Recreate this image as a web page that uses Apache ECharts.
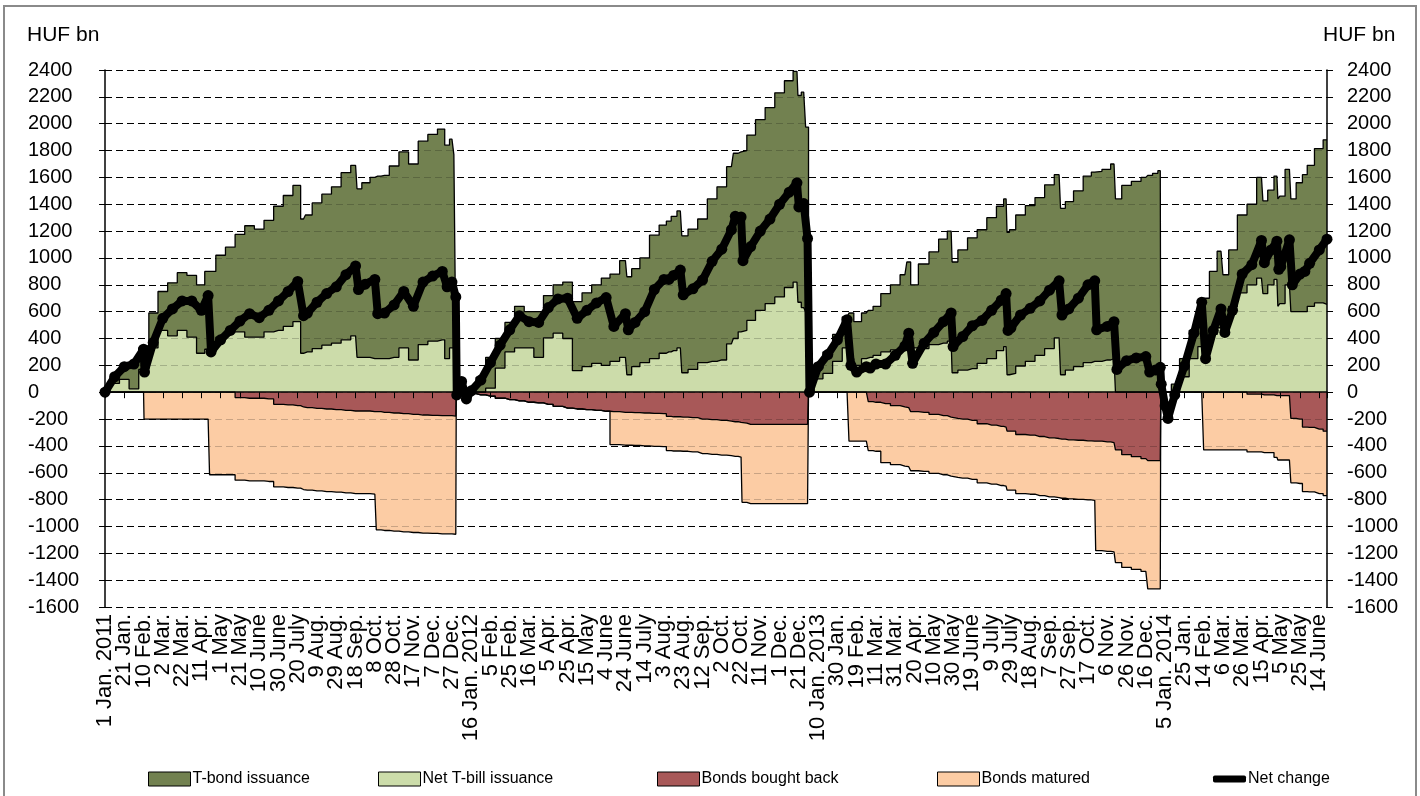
<!DOCTYPE html>
<html>
<head>
<meta charset="utf-8">
<title>HUF government securities issuance, by years</title>
<script src="https://cdn.jsdelivr.net/npm/echarts@6.0.0/dist/echarts.min.js"></script>
<style>
html,body{margin:0;padding:0;background:#ffffff;}
#chart{width:1420px;height:796px;}
</style>
</head>
<body>
<div id="chart"></div>
<script>
// Tick labels: one every 20 days, starting 1 Jan 2011 (day index 0)
const xTickLabels = ['1 Jan. 2011','21 Jan.','10 Feb.','2 Mar.','22 Mar.','11 Apr.','1 May','21 May','10 June','30 June',
  '20 July','9 Aug.','29 Aug.','18 Sep.','8 Oct.','28 Oct.','17 Nov.','7 Dec.','27 Dec.','16 Jan. 2012',
  '5 Feb.','25 Feb.','16 Mar.','5 Apr.','25 Apr.','15 May','4 June','24 June','14 July','3 Aug.',
  '23 Aug.','12 Sep.','2 Oct.','22 Oct.','11 Nov.','1 Dec.','21 Dec.','10 Jan. 2013','30 Jan.','19 Feb.',
  '11 Mar.','31 Mar.','20 Apr.','10 May','30 May','19 June','9 July','29 July','18 Aug.','7 Sep.',
  '27 Sep.','17 Oct.','6 Nov.','26 Nov.','16 Dec.','5 Jan. 2014','25 Jan.','14 Feb.','6 Mar.','26 Mar.',
  '15 Apr.','5 May','25 May','14 June'];

// Day index (days since 1 Jan 2011) of each reading; cumulative year-to-date values, HUF bn
const days2011 = [0,10,20,30,40, 41,50,60,70,80, 90,100,107,110,120, 130,140,150,160,170,
  180,190,200,206,210, 220,230,240,250,260, 263,270,280,283,290, 300,310,320,330,340, 350,355,360,364];
const tBond2011 = [0,40,90,195,160, 170,260,290,395,430, 460,510,580,600,610, 630,725,830,805,830,
  925,975,1015,1000,1020, 1085,1125,1165,1245,1270, 1255,1300,1350,1360,1365, 1425,1460,1460,1515,1540, 1570,1590,1555,1440];
const tBill2011 = [0,65,95,25,170, 175,330,460,420,460, 410,290,320,300,410, 450,450,410,410,450,
  460,490,525,290,300, 325,350,365,390,420, 260,260,250,250,250, 260,330,240,355,380, 390,250,330,330];
const boughtBack2011 = [0,0,0,0,0, 0,0,0,0,0, 0,0,0,0,0, 0,-40,-45,-45,-50,
  -90,-95,-100,-110,-115, -120,-125,-130,-135,-140, -140,-140,-145,-145,-150, -155,-160,-165,-170,-172, -175,-175,-175,-178];
const matured2011 = [0,0,0,0,0, -200,-200,-200,-200,-200, -200,-200,-200,-615,-615, -615,-615,-615,-615,-615,
  -615,-615,-615,-615,-615, -615,-615,-615,-615,-615, -615,-615,-615,-880,-880, -880,-880,-880,-880,-880, -880,-880,-880,-880];
const net2011 = [0,115,190,210,320, 150,370,550,620,680, 680,610,720,300,390, 460,530,585,555,610,
  680,750,825,570,590, 670,735,785,875,940, 765,805,840,585,590, 650,750,640,820,865, 900,785,820,710];

const days2012 = [365,370,375,380,390, 400,410,420,430,440, 450,460,470,480,490, 500,510,520,528,540,
  543,550,560,570,580, 585,590,597,600,610, 620,630,640,650,654, 660,662,670,680,690, 700,710,718,720,725, 729];
const tBond2012 = [0,0,0,20,110, 230,220,220,310,270, 340,315,360,420,515, 550,585,650,650,720,
  730,730,780,920,955, 975,1000,1020,1020,1045, 1070,1210,1290,1320,1380, 1340,1340,1380,1420,1460, 1520,1540,1570,1540,1605, 1375];
const tBill2012 = [0,0,0,0,0, 30,180,300,330,330, 260,405,440,400,160, 190,215,200,230,260,
  130,190,220,250,290, 300,310,330,145,170, 220,230,240,360,400, 450,460,535,610,660, 710,780,820,670,630, 600];
const boughtBack2012 = [0,0,0,-10,-20, -30,-45,-55,-65,-75, -80,-90,-105,-118,-125, -130,-135,-142,-145,-150,
  -150,-152,-155,-158,-160, -180,-183,-183,-185,-190, -200,-205,-210,-215,-220, -225,-230,-240,-240,-240, -240,-240,-240,-240,-240, -240];
const matured2012 = [0,0,0,0,0, 0,0,0,0,0, 0,0,0,0,0, 0,0,0,-245,-245,
  -245,-245,-245,-245,-245, -255,-255,-255,-255,-255, -258,-258,-258,-258,-258, -258,-590,-590,-590,-590, -590,-590,-590,-590,-590, -590];
const net2012 = [-20,80,-50,10,90, 220,350,465,570,525, 520,630,695,700,550, 610,665,705,490,585,
  465,520,600,765,840, 840,870,910,725,770, 835,975,1065,1210,1310, 1305,980,1085,1200,1290, 1400,1490,1560,1380,1405, 1145];

const days2013 = [731,740,750,760,770, 774,780,790,794,800, 810,820,830,834,838, 850,860,870,878,880,
  890,900,910,920,930, 935,937,940,950,960, 970,980,990,993,1000, 1010,1020,1027,1029,1040, 1047,1050,1060,1070,1080, 1084,1090,1095];
const tBond2013 = [0,80,160,200,230, 340,325,340,350,365, 435,485,555,615,470, 630,690,775,820,825,
  895,975,995,1050,1075, 1100,1060,1070,1125,1160, 1175,1220,1215,1240,1255, 1310,1390,1410,1415,1420, 1450,1440,1540,1570,1600, 1615,1630,1650];
const tBill2013 = [0,100,140,230,330, 250,200,250,260,275, 300,315,320,355,330, 325,355,365,380,145,
  165,175,215,250,310, 340,130,140,195,230, 275,325,405,130,165, 190,220,230,230,240, 250,0,0,0,0, 0,0,0];
const boughtBack2013 = [0,0,0,0,0, 0,0,0,-70,-75, -85,-100,-110,-115,-145, -150,-165,-175,-185,-195,
  -200,-210,-235,-245,-255, -260,-290,-290,-315,-320, -330,-340,-345,-350,-355, -358,-362,-365,-365,-370, -375,-430,-465,-480,-495, -510,-510,-510];
const matured2013 = [0,0,0,0,0, -365,-365,-365,-365,-365, -440,-440,-440,-440,-440, -440,-440,-440,-440,-440,
  -440,-440,-440,-440,-440, -440,-440,-440,-440,-440, -440,-440,-440,-440,-440, -440,-440,-440,-815,-815, -815,-840,-840,-840,-840, -955,-955,-955];
const net2013 = [0,190,280,390,540, 200,150,190,180,210, 210,275,345,440,215, 365,445,525,590,340,
  415,495,535,610,685, 735,460,480,575,625, 680,760,830,575,620, 700,800,830,465,490, 525,170,235,255,265, 150,165,185];

const days2014 = [1096,1100,1103,1110,1120, 1130,1138,1142,1150,1158, 1162,1170,1180,1190,1200,
  1203,1210,1216,1218,1220, 1229,1232,1240,1245,1250, 1260,1268];
const tBond2014 = [0,0,0,60,135, 210,330,320,470,570, 375,420,580,600,750,
  690,705,770,800,800, 860,840,960,1020,1050, 1150,1225];
const tBill2014 = [0,0,0,0,115, 250,340,380,430,480, 500,640,740,800,850,
  735,800,840,640,660, 800,600,600,600,640, 665,655];
const boughtBack2014 = [0,0,0,0,0, 0,0,0,0,0, 0,0,0,-15,-15,
  -20,-20,-25,-25,-25, -25,-195,-200,-260,-262, -275,-290];
const matured2014 = [0,0,0,0,0, 0,0,-430,-430,-430, -430,-430,-430,-430,-430,
  -430,-430,-460,-480,-480, -480,-480,-480,-480,-480, -480,-480];
const net2014 = [60,-100,-195,-20,195, 440,670,250,460,620, 445,610,880,950,1130,
  965,1060,1125,915,935, 1135,800,880,900,960, 1060,1140];

// ---- assemble ----
const days = [].concat(days2011, days2012, days2013, days2014);
const tBond = [].concat(tBond2011, tBond2012, tBond2013, tBond2014);
const tBill = [].concat(tBill2011, tBill2012, tBill2013, tBill2014);
const boughtBack = [].concat(boughtBack2011, boughtBack2012, boughtBack2013, boughtBack2014);
const matured = [].concat(matured2011, matured2012, matured2013, matured2014);
const netChange = [].concat(net2011, net2012, net2013, net2014);

const pts = vals => days.map((d, i) => [d, vals[i]]);
// upper edge of a stacked band = its own value on top of the band below it
const stackPts = (below, own) => days.map((d, i) => [d, below[i] + own[i]]);

const FONT = "'Liberation Sans', Arial, sans-serif";
const C_BOND = '#728150', C_BILL = '#CCDCAA', C_BB = '#A85858', C_MAT = '#FCCCA4';
const X_MAX = 1268;

function areaSeries(name, data, color) {
  return {
    name: name, type: 'line', data: data, step: 'middle',
    symbol: 'none', showSymbol: false, silent: true,
    lineStyle: {color: '#000', width: 1.3},
    itemStyle: {color: color, borderColor: '#000', borderWidth: 1},
    areaStyle: {color: color, opacity: 1},
    emphasis: {disabled: true}, z: 2, animation: false
  };
}

const yBase = {type: 'value', min: -1600, max: 2400, interval: 200};
const xBase = {type: 'value', min: 0, max: X_MAX, interval: 20, gridIndex: 0};
const plainNum = v => String(v);
const tickLabel = v => {
  if (v % 20 !== 0) return '';
  const l = xTickLabels[v / 20];
  return l === undefined ? '' : l;
};
const labelAxis = (formatter, showMin) => Object.assign({}, xBase, {
  position: 'bottom',
  axisLine: {show: false, onZero: false},
  axisTick: {show: false},
  splitLine: {show: false},
  axisLabel: {
    show: true, rotate: 90, margin: 7, fontSize: 22, fontFamily: FONT, color: '#000',
    showMinLabel: showMin, showMaxLabel: false, hideOverlap: false, formatter: formatter
  }
});

const chart = echarts.init(document.getElementById('chart'), null, {renderer: 'canvas'});
const legendBase = {
  top: 771, itemWidth: 42, itemHeight: 14, selectedMode: false, padding: 0,
  textStyle: {fontFamily: FONT, fontSize: 16, color: '#000', padding: [0, 0, 0, -3]}
};

chart.setOption({
  animation: false,
  backgroundColor: '#ffffff',
  textStyle: {fontFamily: FONT},
  grid: {left: 105, right: 93, top: 70, bottom: 189, containLabel: false, outerBoundsMode: 'none'},
  xAxis: [
    Object.assign({}, xBase, {
      position: 'bottom', z: 4,
      axisLine: {show: true, onZero: true, lineStyle: {color: '#000', width: 1.5}},
      axisTick: {show: true, length: 6, lineStyle: {color: '#000', width: 1}},
      axisLabel: {show: false}, splitLine: {show: false}
    }),
    // all tick labels except the first
    labelAxis(v => (v === 0 ? '' : tickLabel(v)), false),
    // the first tick label only
    labelAxis(v => (v === 0 ? tickLabel(v) : ''), true)
  ],
  yAxis: [
    Object.assign({}, yBase, {
      position: 'left', z: 4,
      axisLine: {show: true, onZero: false, lineStyle: {color: '#000', width: 1.5}},
      axisTick: {show: true, length: 6, lineStyle: {color: '#000'}},
      axisLabel: {align: 'left', margin: 77, fontSize: 20, fontFamily: FONT, color: '#000', formatter: plainNum},
      splitLine: {show: false}
    }),
    Object.assign({}, yBase, {
      position: 'right', z: 4,
      axisLine: {show: true, onZero: false, lineStyle: {color: '#000', width: 1.5}},
      axisTick: {show: true, length: 6, lineStyle: {color: '#000'}},
      axisLabel: {align: 'left', margin: 20, fontSize: 20, fontFamily: FONT, color: '#000', formatter: plainNum},
      splitLine: {show: false}
    }),
    // dashed gridlines underneath the areas
    Object.assign({}, yBase, {
      position: 'left', z: 0,
      axisLine: {show: false, onZero: false}, axisTick: {show: false}, axisLabel: {show: false},
      splitLine: {show: true, lineStyle: {color: '#000', width: 1, type: [7, 4]}}
    }),
    // faint copy of the gridlines showing through the filled areas
    Object.assign({}, yBase, {
      position: 'left', z: 3,
      axisLine: {show: false, onZero: false}, axisTick: {show: false}, axisLabel: {show: false},
      splitLine: {show: true, lineStyle: {color: 'rgba(0,0,0,0.2)', width: 1, type: [7, 4]}}
    })
  ],
  legend: [
    Object.assign({}, legendBase, {left: 148, data: [{name: 'T-bond issuance', icon: 'rect',
      itemStyle: {color: C_BOND, borderColor: '#000', borderWidth: 1}}]}),
    Object.assign({}, legendBase, {left: 378, data: [{name: 'Net T-bill issuance', icon: 'rect',
      itemStyle: {color: C_BILL, borderColor: '#000', borderWidth: 1}}]}),
    Object.assign({}, legendBase, {left: 657, data: [{name: 'Bonds bought back', icon: 'rect',
      itemStyle: {color: C_BB, borderColor: '#000', borderWidth: 1}}]}),
    Object.assign({}, legendBase, {left: 937, data: [{name: 'Bonds matured', icon: 'rect',
      itemStyle: {color: C_MAT, borderColor: '#000', borderWidth: 1}}]}),
    Object.assign({}, legendBase, {left: 1213, itemWidth: 33, itemHeight: 7,
      data: [{name: 'Net change', icon: 'roundRect', itemStyle: {color: '#000', borderWidth: 0}}]})
  ],
  series: [
    Object.assign(areaSeries('T-bond issuance', stackPts(tBill, tBond), C_BOND), {xAxisIndex: 0, yAxisIndex: 0}),
    Object.assign(areaSeries('Net T-bill issuance', pts(tBill), C_BILL), {xAxisIndex: 0, yAxisIndex: 0}),
    Object.assign(areaSeries('Bonds matured', stackPts(boughtBack, matured), C_MAT), {xAxisIndex: 0, yAxisIndex: 0}),
    Object.assign(areaSeries('Bonds bought back', pts(boughtBack), C_BB), {xAxisIndex: 0, yAxisIndex: 0}),
    {
      name: 'Net change', type: 'line', data: pts(netChange), xAxisIndex: 0, yAxisIndex: 0,
      symbol: 'circle', symbolSize: 11, showSymbol: true, showAllSymbol: true, silent: true,
      lineStyle: {color: '#000', width: 8, join: 'round', cap: 'round'}, itemStyle: {color: '#000'},
      emphasis: {disabled: true}, z: 5
    }
  ],
  graphic: [
    {type: 'rect', silent: true, z: 10, shape: {x: 4, y: 6, width: 1412, height: 800},
      style: {fill: 'none', stroke: '#8a8a8a', lineWidth: 2}},
    {type: 'text', left: 27, top: 25, z: 10, style: {text: 'HUF bn', font: '21px ' + FONT, fill: '#000'}},
    {type: 'text', left: 1323, top: 25, z: 10, style: {text: 'HUF bn', font: '21px ' + FONT, fill: '#000'}}
  ]
});
</script>
</body>
</html>
